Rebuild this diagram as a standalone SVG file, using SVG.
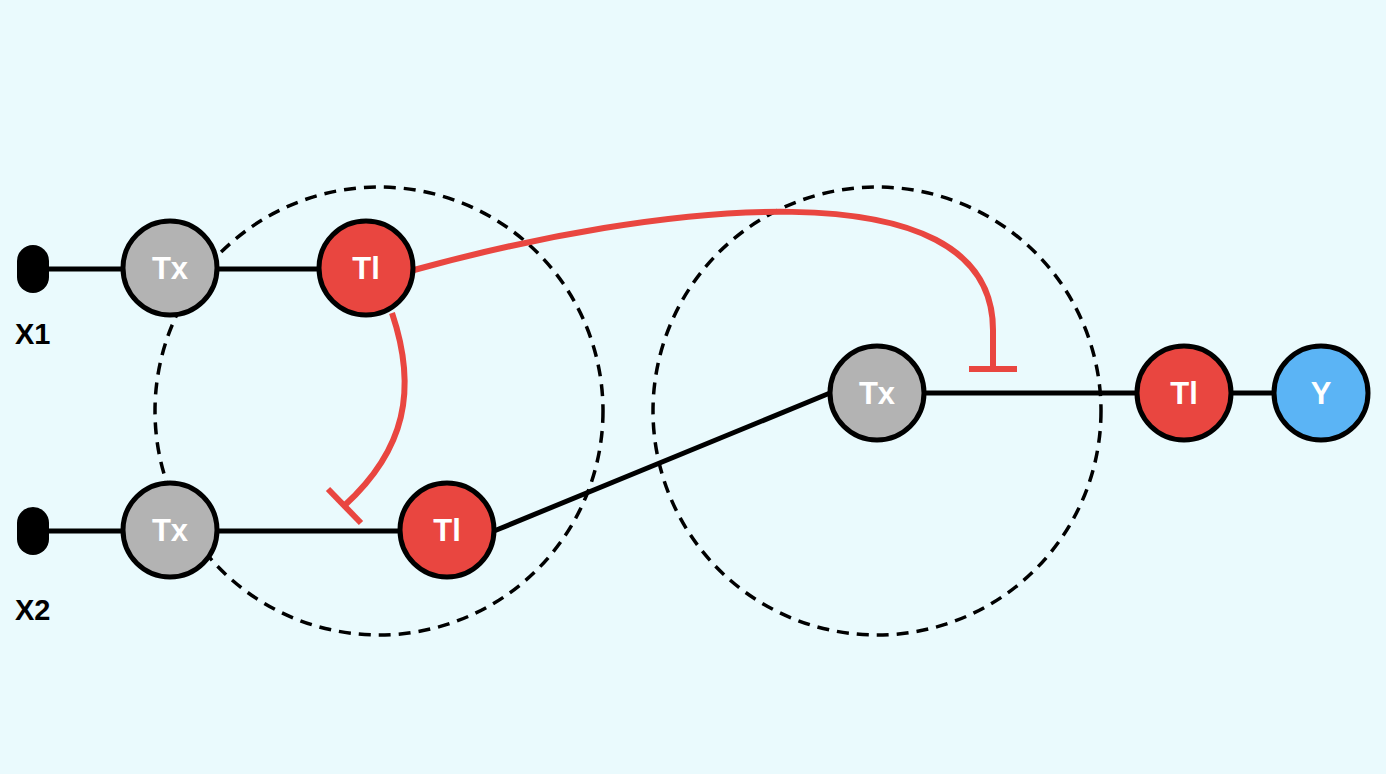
<svg xmlns="http://www.w3.org/2000/svg" width="1386" height="774" viewBox="0 0 1386 774">
<style>
.n{stroke:#000;stroke-width:5}
.g{fill:#b3b3b3}.r{fill:#e94640}.b{fill:#5bb4f5}
.t{font-family:"Liberation Sans",Arial,sans-serif;font-weight:bold;font-size:31px;fill:#fff;text-anchor:middle}
.l{font-family:"Liberation Sans",Arial,sans-serif;font-weight:bold;font-size:29px;fill:#000}
.k{stroke:#000;stroke-width:5;fill:none}
.rd{stroke:#e94640;stroke-width:6;fill:none}
.d{stroke:#000;stroke-width:3.5;fill:none;stroke-dasharray:12 8}
</style>
<rect width="1386" height="774" fill="#eafafd"/>
<circle class="d" cx="379" cy="411" r="224"/>
<circle class="d" cx="877" cy="411" r="224"/>
<g id="connectors">
<line class="k" x1="40" y1="269" x2="125" y2="269"/>
<line class="k" x1="40" y1="531" x2="125" y2="531"/>
<line class="k" x1="215" y1="269" x2="320" y2="269"/>
<line class="k" x1="215" y1="531" x2="400" y2="531"/>
<line class="k" stroke-width="6" x1="494" y1="531" x2="830" y2="393"/>
<line class="k" x1="925" y1="393" x2="1138" y2="393"/>
<line class="k" x1="1230" y1="393" x2="1275" y2="393"/>
<path class="rd" d="M414,270 C650,205 993,160 993,330 L993,368"/>
<line class="rd" x1="969" y1="369" x2="1017" y2="369"/>
<path class="rd" d="M392,313 C418,390 405,450 345,505"/>
<line class="rd" x1="328" y1="489" x2="361" y2="523"/>
</g>
<g id="x1"><rect x="17" y="245" width="32" height="48" rx="16" fill="#000"/><text class="l" x="15" y="344">X1</text></g>
<g id="x2"><rect x="17" y="507" width="32" height="48" rx="16" fill="#000"/><text class="l" x="15" y="620">X2</text></g>
<g id="tx1"><circle class="n g" cx="170" cy="268" r="47"/><text class="t" x="170" y="279">Tx</text></g>
<g id="tl1"><circle class="n r" cx="366" cy="268" r="47"/><text class="t" x="366" y="279">Tl</text></g>
<g id="tx2"><circle class="n g" cx="170" cy="530" r="47"/><text class="t" x="170" y="541">Tx</text></g>
<g id="tl2"><circle class="n r" cx="447" cy="530" r="47"/><text class="t" x="447" y="541">Tl</text></g>
<g id="tx3"><circle class="n g" cx="877" cy="393" r="47"/><text class="t" x="877" y="404">Tx</text></g>
<g id="tl3"><circle class="n r" cx="1184" cy="393" r="47"/><text class="t" x="1184" y="404">Tl</text></g>
<g id="y"><circle class="n b" cx="1321" cy="393" r="47"/><text class="t" x="1321" y="404">Y</text></g>
</svg>
